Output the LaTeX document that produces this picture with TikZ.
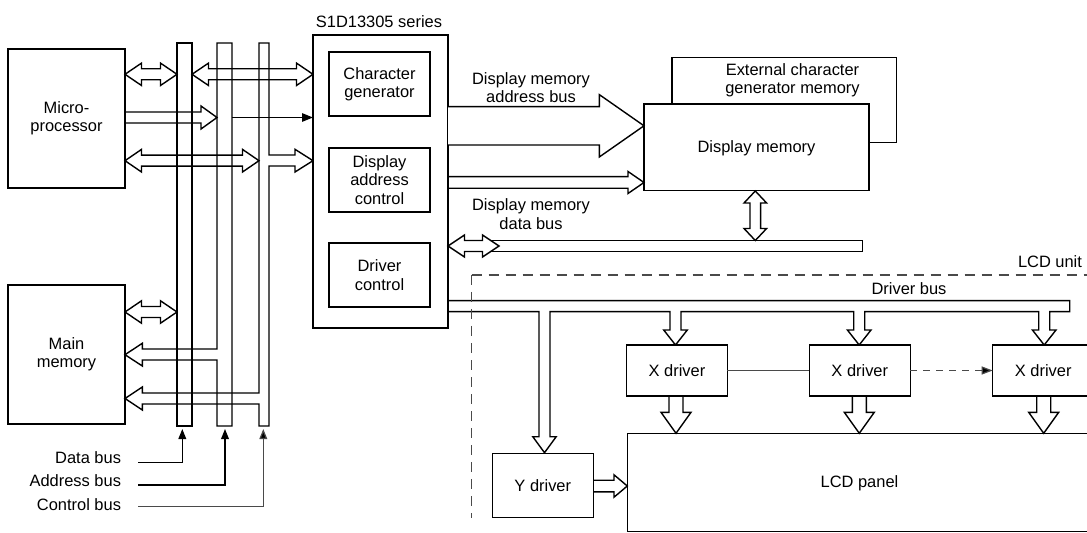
\documentclass[tikz,border=0pt]{standalone}
\usepackage{fontspec}
\setmainfont{Liberation Sans}
\usetikzlibrary{arrows.meta}
\newcommand\lblfont{\fontsize{16.5}{18.5}\selectfont}
% horizontal block arrow: [opts] tail-x, tip-x, y, half shaft, half head, head length (signed)
\newcommand\ArrH[7][]{\draw[blk,#1] (#2,{#4-(#5)}) -- ({#3-(#7)},{#4-(#5)}) -- ({#3-(#7)},{#4-(#6)}) -- (#3,#4) -- ({#3-(#7)},{#4+(#6)}) -- ({#3-(#7)},{#4+(#5)}) -- (#2,{#4+(#5)});}
\newcommand\ArrV[7][]{\draw[blk,#1] ({#4-(#5)},#2) -- ({#4-(#5)},{#3-(#7)}) -- ({#4-(#6)},{#3-(#7)}) -- (#4,#3) -- ({#4+(#6)},{#3-(#7)}) -- ({#4+(#5)},{#3-(#7)}) -- ({#4+(#5)},#2);}
% double block arrows: [opts] from, to, position, half shaft, half head, head length
\newcommand\DArrH[7][]{\draw[blk,#1] (#2,#4) -- ({#2+(#7)},{#4-(#6)}) -- ({#2+(#7)},{#4-(#5)}) -- ({#3-(#7)},{#4-(#5)}) -- ({#3-(#7)},{#4-(#6)}) -- (#3,#4) -- ({#3-(#7)},{#4+(#6)}) -- ({#3-(#7)},{#4+(#5)}) -- ({#2+(#7)},{#4+(#5)}) -- ({#2+(#7)},{#4+(#6)}) -- cycle;}
\newcommand\DArrV[7][]{\draw[blk,#1] (#4,#2) -- ({#4-(#6)},{#2+(#7)}) -- ({#4-(#5)},{#2+(#7)}) -- ({#4-(#5)},{#3-(#7)}) -- ({#4-(#6)},{#3-(#7)}) -- (#4,#3) -- ({#4+(#6)},{#3-(#7)}) -- ({#4+(#5)},{#3-(#7)}) -- ({#4+(#5)},{#2+(#7)}) -- ({#4+(#6)},{#2+(#7)}) -- cycle;}
\definecolor{lgray}{HTML}{4A4A4A}
\begin{document}
\begin{tikzpicture}[x=1bp,y=-1bp,
  blk/.style={draw=black,line width=1.4bp,line join=miter},
  box/.style={draw=black,line width=1.4bp,fill=white,inner sep=0pt,outer sep=0pt,align=center,font=\lblfont,anchor=north west},
  txt/.style={inner sep=0pt,outer sep=0pt,align=center,font=\lblfont},
  thinarrow/.style={draw=black,line width=1.2bp,-{Triangle[length=11bp,width=8.5bp]}},
  lead/.style={draw=black,line width=1.2bp,-{Triangle[length=10bp,width=7.7bp,fill=black]}},
  conn/.style={draw=lgray,line width=1.2bp},
  dconn/.style={draw=lgray,line width=1.2bp,dash pattern=on 7bp off 6bp,-{Triangle[length=11bp,width=8bp,fill=black]}},
  lcdline/.style={draw=lgray,line width=1.2bp,dash pattern=on 10bp off 7bp}]
\useasboundingbox (0,0) rectangle (1087,533);
\clip (0,0) rectangle (1087,533);
\fill[white] (0,0) rectangle (1087,533);

% ---------- left blocks ----------
\node[box,minimum width=117bp,minimum height=139bp] (mp) at (8,49) {Micro-\\processor};
\node[box,minimum width=117bp,minimum height=139bp] (mm) at (8,285) {Main\\memory};

% ---------- buses ----------
\draw[blk] (177,43) rectangle (192,426);
% address bus with branch to main memory
\draw[blk] (217,360) -- (217,426) -- (232,426) -- (232,43) -- (217,43) -- (217,349) -- (142.3,349) -- (142.3,343.3) -- (125,354.7) -- (142.3,366) -- (142.3,360) -- cycle;
% control bus with branches
\draw[blk] (269,166) -- (269,426) -- (259,426) -- (259,404) -- (142.3,404) -- (142.3,410) -- (125,398.5) -- (142.3,387) -- (142.3,393) -- (259,393) -- (259,43) -- (269,43) -- (269,155) -- (295,155) -- (295,149.3) -- (313,160.7) -- (295,172) -- (295,166) -- cycle;

% bus arrows
\DArrH{125}{177}{74.3}{5.5}{11.2}{16.5}
\DArrH{192}{313}{74.3}{5.5}{11.2}{16.5}
\ArrH{125}{217}{117.5}{5.5}{11.5}{16}
\DArrH{125}{259}{160.7}{5.5}{11.3}{16.5}
\DArrH{125}{177}{312}{5.5}{11.2}{16.5}

% ---------- S1D13305 ----------
\node[box,minimum width=135bp,minimum height=293bp] (s1d) at (313,35) {};
\node[txt,anchor=base] (s1dl) at (379,27.3) {S1D13305 series};
\node[box,minimum width=101bp,minimum height=64bp] (cg) at (329,52) {Character\\generator};
\node[box,minimum width=101bp,minimum height=64bp] (dac) at (329,148) {Display\\address\\control};
\node[box,minimum width=101bp,minimum height=64bp] (dc) at (329,243) {Driver\\control};

\coordinate (t2) at (232,117.5);
\draw[thinarrow] (t2) -- (t2 -| s1d.west);

% bus labels and leaders
\node[txt,anchor=base east] (dlab) at (121,463) {Data bus};
\node[txt,anchor=base east] (alab) at (121,486.7) {Address bus};
\node[txt,anchor=base east] (clab) at (121,510.7) {Control bus};
\coordinate (dl) at (138,462.7);
\coordinate (al) at (138,485);
\coordinate (cl) at (138,506.7);
\coordinate (dbB) at (182.3,429);
\coordinate (abB) at (225,429);
\coordinate (cbB) at (263.3,429);
\draw[lead] (dl) -| (dbB);
\draw[lead] (al) -| (abB);
\draw[lead,draw=lgray] (cl) -| (cbB);

% ---------- display memory ----------
\node[box,minimum width=224.7bp,minimum height=85.4bp] (ecg) at (672,57.3) {};
\node[txt] (ecgl) at (792.5,80.3) {External character\\generator memory};
\node[box,minimum width=225bp,minimum height=86.7bp,text depth=1pt] (dm) at (644,104) {Display memory};

\ArrH[fill=white]{448}{644}{125.8}{19.2}{31.2}{44.7}
\ArrH{448}{644}{182.5}{5.8}{11}{16}
\node[txt] (dmab) at (531,87.7) {Display memory\\address bus};
\node[txt] (dmdb) at (531,214) {Display memory\\data bus};

% data bus
\draw[blk] (488,240.5) -- (862.7,240.5) -- (862.7,251.5) -- (488,251.5);
\DArrH[fill=white]{448}{499}{246}{5.5}{11}{16.5}
\DArrV[fill=white]{191}{240.5}{755.3}{5.3}{11.3}{12}

% ---------- LCD unit ----------
\draw[blk] (448,300.7) -- (1069.7,300.7) -- (1069.7,311.7)
  -- (1049.7,311.7) -- (1049.7,330) -- (1056,330) -- (1044.2,345) -- (1032.4,330) -- (1038.7,330) -- (1038.7,311.7)
  -- (864.7,311.7) -- (864.7,330) -- (871,330) -- (859.2,345) -- (847.4,330) -- (853.7,330) -- (853.7,311.7)
  -- (681,311.7) -- (681,330) -- (687.3,330) -- (675.5,345) -- (663.7,330) -- (670,330) -- (670,311.7)
  -- (550,311.7) -- (550,436.7) -- (556.2,436.7) -- (544.5,452.7) -- (532.8,436.7) -- (539,436.7) -- (539,311.7)
  -- (448,311.7);
\node[txt,anchor=base] (drvb) at (909,294.3) {Driver bus};

\coordinate (lu1) at (1095,275);
\coordinate (lu2) at (471.7,275);
\coordinate (lu3) at (471.7,518);
\draw[lcdline] (lu2) -- (lu1);
\draw[lcdline] (lu2) -- (lu3);
\node[txt,anchor=base] (lcdu) at (1050,268) {LCD unit};

\node[box,minimum width=100.6bp,minimum height=51bp] (x1) at (626.7,345) {X driver};
\node[box,minimum width=101bp,minimum height=51bp] (x2) at (809.3,345) {X driver};
\node[box,minimum width=101bp,minimum height=51bp] (x3) at (992.7,345) {X driver};
\node[box,minimum width=101bp,minimum height=64bp] (yd) at (492.3,453.3) {Y driver};
\node[box,minimum width=464.4bp,minimum height=98.4bp,text depth=1pt] (lcd) at (627.3,433.3) {LCD panel};

\ArrV{396}{433.3}{676}{7}{15}{21}
\ArrV{396}{433.3}{859.3}{7}{15}{21}
\ArrV{396}{433.3}{1043.7}{7}{15}{21}
\ArrH{593.3}{627.3}{486}{5.8}{11.2}{13.3}

\draw[conn] (x1) -- (x2);
\draw[dconn] (x2) -- (x3);
\end{tikzpicture}
\end{document}
